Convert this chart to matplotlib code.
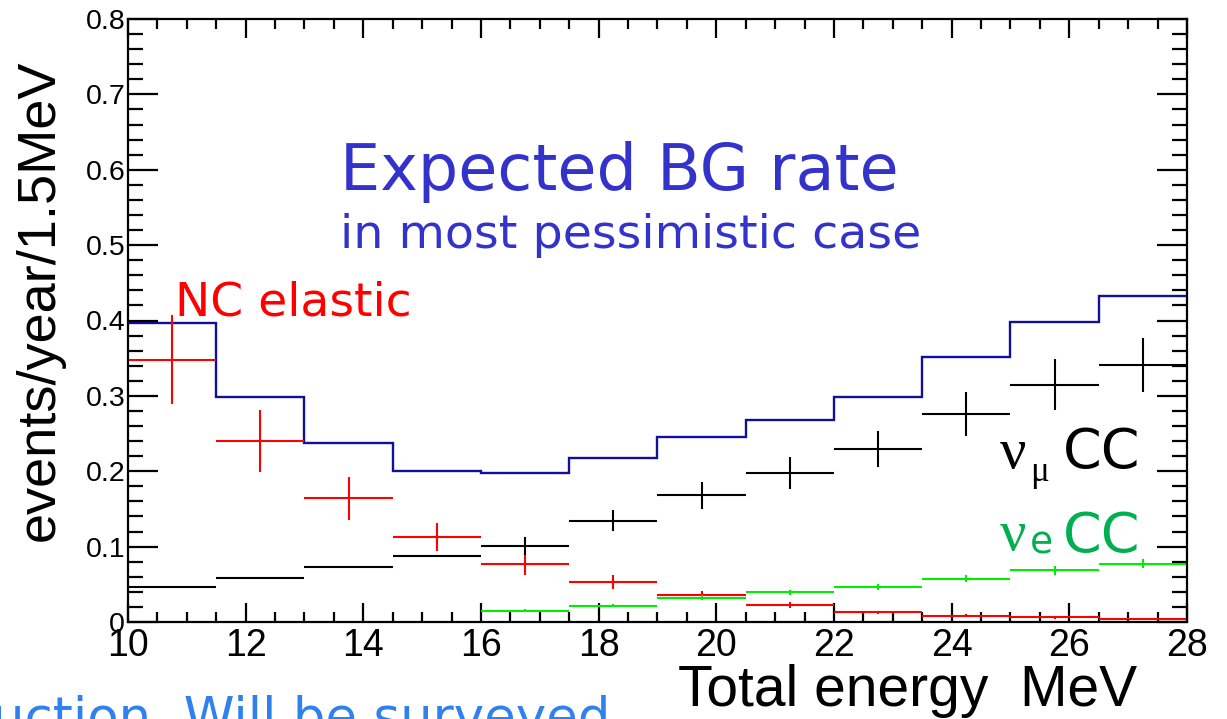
import numpy as np
import matplotlib
matplotlib.use("Agg")
import matplotlib.pyplot as plt
from matplotlib.ticker import MultipleLocator

# ---- data ----
bin_edges = [10, 11.5, 13, 14.5, 16, 17.5, 19, 20.5, 22, 23.5, 25, 26.5, 28]
total_bg = [0.397, 0.299, 0.238, 0.200, 0.198, 0.217, 0.245, 0.268, 0.298, 0.352, 0.398, 0.432]
nc_elastic = [0.348, 0.240, 0.164, 0.113, 0.077, 0.053, 0.036, 0.022, 0.013, 0.0085, 0.006, 0.0035]
nc_elastic_err = [0.059, 0.041, 0.029, 0.019, 0.014, 0.009, 0.005, 0.004, 0.002, 0.002, 0.0015, 0.0012]
numu_cc = [0.047, 0.059, 0.0735, 0.0876, 0.101, 0.1345, 0.168, 0.198, 0.229, 0.276, 0.315, 0.341]
numu_cc_err = [0.0, 0.0, 0.0, 0.0, 0.012, 0.014, 0.018, 0.021, 0.024, 0.029, 0.034, 0.036]
nue_cc = [np.nan, np.nan, np.nan, np.nan, 0.015, 0.0217, 0.0323, 0.0394, 0.047, 0.0575, 0.0686, 0.077]
nue_cc_err = [0, 0, 0, 0, 0.002, 0.002, 0.003, 0.003, 0.004, 0.005, 0.006, 0.006]

x_ticks = [10, 12, 14, 16, 18, 20, 22, 24, 26, 28]
y_ticks = [0, 0.1, 0.2, 0.3, 0.4, 0.5, 0.6, 0.7, 0.8]

edges = np.array(bin_edges)
centers = 0.5 * (edges[:-1] + edges[1:])
halfw = 0.5 * np.diff(edges)

W, H = 1227, 719
fig = plt.figure(figsize=(W / 100, H / 100), dpi=100)
ax = fig.add_axes([128 / W, 1 - 622 / H, (1187 - 128) / W, (622 - 19) / H])

ax.stairs(total_bg, edges, color="#10109a", lw=1.7, baseline=None)
ax.errorbar(centers, nc_elastic, xerr=halfw, yerr=nc_elastic_err, fmt="none",
            ecolor="#ff0000", elinewidth=1.5, capsize=0)
ax.errorbar(centers, numu_cc, xerr=halfw, yerr=numu_cc_err, fmt="none",
            ecolor="#000000", elinewidth=1.5, capsize=0)
ax.errorbar(centers, nue_cc, xerr=halfw, yerr=nue_cc_err, fmt="none",
            ecolor="#00ee00", elinewidth=1.5, capsize=0)

ax.set_xlim(10, 28)
ax.set_ylim(0, 0.8)
ax.set_xticks(x_ticks)
ax.set_xticklabels([f"{v:g}" for v in x_ticks])
ax.set_yticks(y_ticks)
ax.set_yticklabels([f"{v:g}" for v in y_ticks])
ax.xaxis.set_minor_locator(MultipleLocator(0.5))
ax.yaxis.set_minor_locator(MultipleLocator(0.02))

for s in ax.spines.values():
    s.set_linewidth(1.6)
ax.tick_params(axis="both", which="both", direction="in", top=True, right=True,
               width=1.6, colors="black")
ax.tick_params(axis="x", which="major", length=13.5, pad=4, labelsize=27)
ax.tick_params(axis="x", which="minor", length=7)
ax.tick_params(axis="y", which="major", length=21.5, pad=2, labelsize=20.5)
ax.tick_params(axis="y", which="minor", length=11)
for lab in ax.get_xticklabels() + ax.get_yticklabels():
    lab.set_family("Liberation Sans")

# axis titles
fig.text(40 / W, 1 - 300 / H, "events/year/1.5MeV", rotation=90, ha="center", va="center",
         fontsize=39, family="Liberation Sans")
fig.text(678 / W, 1 - 706 / H, "Total energy  MeV", ha="left", va="baseline",
         fontsize=41, family="Liberation Sans")

# annotations
fig.text(340 / W, 1 - 190 / H, "Expected BG rate", ha="left", va="baseline",
         fontsize=45.8, color="#3333cc", family="DejaVu Sans")
fig.text(340 / W, 1 - 248 / H, "in most pessimistic case", ha="left", va="baseline",
         fontsize=34.2, color="#3333cc", family="DejaVu Sans")
fig.text(175 / W, 1 - 315 / H, "NC elastic", ha="left", va="baseline",
         fontsize=34, color="#ff0000", family="DejaVu Sans")

fig.text(1000 / W, 1 - 468 / H, "ν", ha="left", va="baseline",
         fontsize=42, color="black", family="Liberation Serif")
fig.text(1030 / W, 1 - 481 / H, "μ", ha="left", va="baseline",
         fontsize=25, color="black", family="Liberation Serif")
fig.text(1063 / W, 1 - 468 / H, "CC", ha="left", va="baseline",
         fontsize=40, color="black", family="DejaVu Sans")
fig.text(1000 / W, 1 - 550 / H, "ν", ha="left", va="baseline",
         fontsize=42, color="#00b050", family="Liberation Serif")
fig.text(1030 / W, 1 - 553 / H, "e", ha="left", va="baseline",
         fontsize=27, color="#00b050", family="DejaVu Sans")
fig.text(1063 / W, 1 - 552 / H, "CC", ha="left", va="baseline",
         fontsize=40, color="#00b050", family="DejaVu Sans")

# clipped slide text at bottom-left
fig.text(-8 / W, 1 - 734 / H, "uction. Will be surveyed", ha="left", va="baseline",
         fontsize=37, color="#2f82ee", family="DejaVu Sans")

fig.savefig("out.png", dpi=100)
